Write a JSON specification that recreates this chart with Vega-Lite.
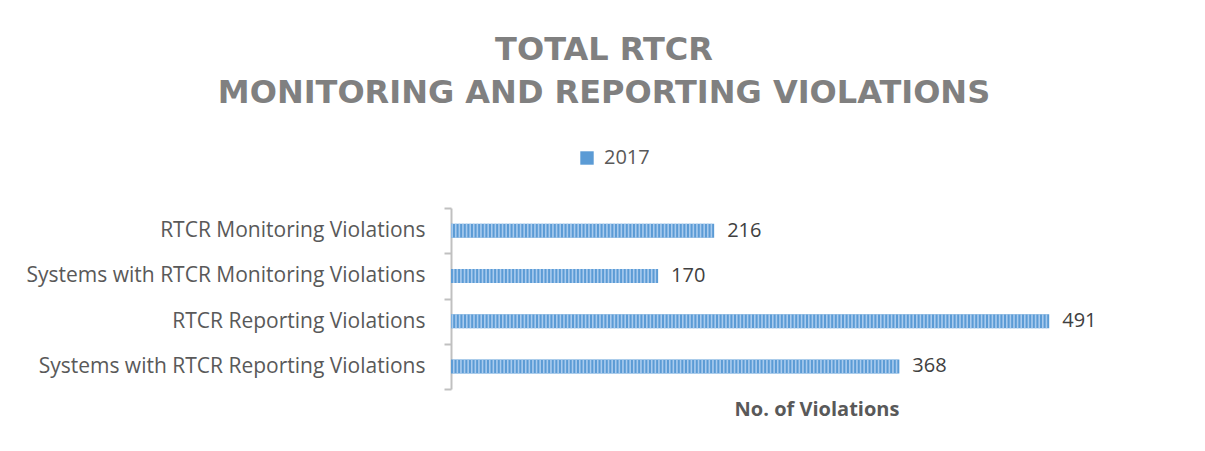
{
  "$schema": "https://vega.github.io/schema/vega-lite/v6.json",
  "width": 731,
  "height": 181,
  "autosize": {"type": "none"},
  "padding": {"left": 451, "top": 208, "right": 23, "bottom": 62},
  "background": "white",
  "title": {
    "text": ["TOTAL RTCR", "MONITORING AND REPORTING VIOLATIONS"],
    "font": "DejaVu Sans",
    "fontSize": 32,
    "fontWeight": "bold",
    "color": "#808080",
    "anchor": "middle",
    "frame": "bounds",
    "lineHeight": 43,
    "offset": 38
  },
  "config": {"view": {"stroke": null}},
  "data": {
    "values": [
      {"category": "RTCR Monitoring Violations", "year": "2017", "violations": 216},
      {"category": "Systems with RTCR Monitoring Violations", "year": "2017", "violations": 170},
      {"category": "RTCR Reporting Violations", "year": "2017", "violations": 491},
      {"category": "Systems with RTCR Reporting Violations", "year": "2017", "violations": 368}
    ]
  },
  "encoding": {
    "y": {
      "field": "category",
      "type": "nominal",
      "sort": null,
      "scale": {"paddingInner": 0, "paddingOuter": 0},
      "axis": {
        "title": null,
        "tickBand": "extent",
        "domainColor": "#c0c0c0",
        "domainWidth": 2,
        "tickColor": "#c0c0c0",
        "tickWidth": 2,
        "tickSize": 7,
        "labelPadding": 19,
        "labelFont": "Open Sans",
        "labelFontSize": 21,
        "labelColor": "#595959",
        "labelLimit": 500
      }
    }
  },
  "layer": [
    {
      "mark": {"type": "bar", "size": 14},
      "encoding": {
        "x": {
          "field": "violations",
          "type": "quantitative",
          "scale": {"domain": [0, 600]},
          "axis": {
            "title": "No. of Violations",
            "labels": false,
            "ticks": false,
            "domain": false,
            "grid": false,
            "titleFont": "Open Sans",
            "titleFontSize": 20,
            "titleFontWeight": "bold",
            "titleColor": "#595959",
            "titlePadding": 10
          }
        },
        "color": {
          "field": "year",
          "type": "nominal",
          "scale": {"range": ["#5b9bd5"]},
          "legend": {
            "title": null,
            "orient": "none",
            "legendX": 126,
            "legendY": -60,
            "symbolType": "square",
            "symbolSize": 180,
            "symbolStrokeWidth": 0,
            "labelOffset": 7,
            "labelFont": "Open Sans",
            "labelFontSize": 20,
            "labelColor": "#595959"
          }
        }
      }
    },
    {
      "mark": {"type": "rule", "strokeWidth": 14, "strokeDash": [1.6, 2], "strokeDashOffset": -2, "color": "#a9cbee", "strokeCap": "butt"},
      "encoding": {
        "x": {"field": "violations", "type": "quantitative"},
        "x2": {"datum": 0}
      }
    },
    {
      "mark": {"type": "text", "align": "left", "baseline": "middle", "dx": 13, "font": "Open Sans", "fontSize": 20, "color": "#404040"},
      "encoding": {
        "x": {"field": "violations", "type": "quantitative"},
        "text": {"field": "violations", "type": "quantitative"}
      }
    }
  ]
}
